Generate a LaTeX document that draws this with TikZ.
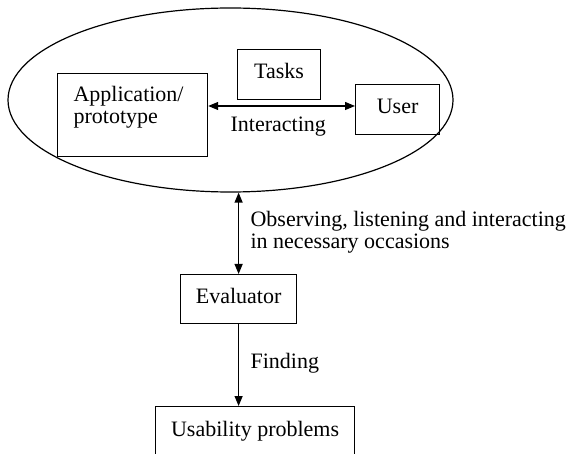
\documentclass[tikz,border=0pt]{standalone}
\usepackage{fontspec}
\setmainfont{Liberation Serif}
\usetikzlibrary{arrows.meta,shapes.geometric}
\begin{document}
\begin{tikzpicture}[x=1pt,y=-1pt,
  font=\fontsize{22}{25}\selectfont,
  line width=1.2pt,
  box/.style={draw, rectangle, inner sep=0pt, anchor=north west},
  boxtext/.style={box, text height=14pt, text depth=6pt},
  txt/.style={inner sep=0pt, anchor=base west},
  conn/.style={-{Triangle[length=10pt,width=8pt]}},
  biconn/.style={{Triangle[length=10pt,width=8pt]}-{Triangle[length=10pt,width=8pt]}}]
  \clip (0,0) rectangle (570,454);
  \fill[white] (0,0) rectangle (570,454);

  % context: application, tasks and user
  \node[draw, ellipse, inner sep=0pt, minimum width=445pt, minimum height=184pt] (ctx) at (230.5,100) {};
  \node[box, minimum width=150pt, minimum height=83pt] (app) at (57,73) {};
  \node[txt] (appA) at (73,102) {Application/};
  \node[txt] (appB) at (73,124) {prototype};
  \node[boxtext, minimum width=83pt, minimum height=50pt] (tasks) at (237,49) {Tasks};
  \node[boxtext, minimum width=84pt, minimum height=50pt] (user) at (355,84) {User};
  \coordinate (ia) at (0,106);
  \draw[biconn] (app.east |- ia) -- (user.west |- ia);
  \node[txt] (lint) at (230,132) {Interacting};

  % evaluator
  \node[boxtext, minimum width=116pt, minimum height=49pt] (eval) at (180,274) {Evaluator};
  \draw[biconn] (eval.north |- ctx.south) -- (eval.north);
  \node[txt] (lobs1) at (250,227) {Observing, listening and interacting};
  \node[txt] (lobs2) at (250,249) {in necessary occasions};

  % findings
  \node[boxtext, minimum width=199pt, minimum height=52pt] (prob) at (155,406) {Usability problems};
  \draw[conn] (eval.south) -- (eval.south |- prob.north);
  \node[txt] (lfind) at (250,368) {Finding};
\end{tikzpicture}
\end{document}
